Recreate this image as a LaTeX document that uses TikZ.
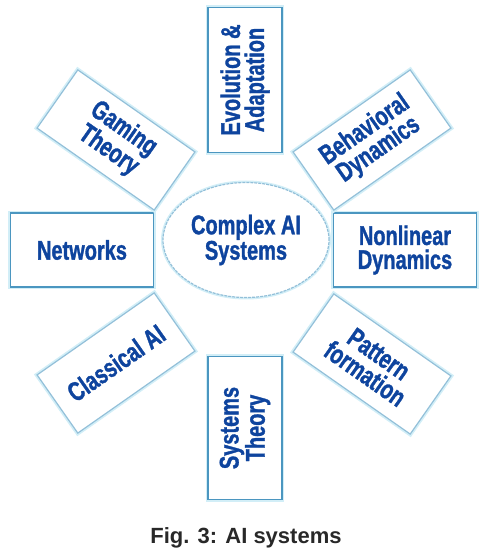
\documentclass[tikz,border=0pt]{standalone}
\usepackage{fontspec}
\setmainfont{Liberation Sans}
\newfontfamily\narrowfont{Liberation Sans}[FakeStretch=0.74, BoldFeatures={FakeBold=1.2}]
\usetikzlibrary{shapes.geometric}
\definecolor{ink}{RGB}{14,68,158}
\definecolor{frame}{RGB}{75,150,192}
\definecolor{glow}{RGB}{210,238,247}
\definecolor{capgray}{RGB}{40,40,40}

\begin{document}
\begin{tikzpicture}[
  x=1pt, y=1pt,
  topic/.style={draw=frame, line width=1.6pt, preaction={draw=glow, line width=4.5pt},
                fill=white, text=ink, align=center,
                font=\narrowfont\bfseries\fontsize{27}{24}\selectfont,
                minimum width=143pt, minimum height=74pt, inner sep=2pt},
  tilted/.style={topic, draw=frame!60, line width=1.2pt, minimum height=71pt},
  hub/.style={ellipse, draw=frame!60, line width=1.2pt, dash pattern=on 3pt off 1pt,
              preaction={draw=glow, line width=4pt, solid},
              fill=white, text=ink, align=center,
              font=\narrowfont\bfseries\fontsize{27}{24}\selectfont,
              minimum width=166pt, minimum height=115pt, inner sep=0pt}
]
  \useasboundingbox (0,0) rectangle (493,555);

  \node[hub] (core) at (246,315) {Complex AI\\Systems};

  \node[topic, rotate=90, minimum width=145pt] (evo) at (245,475) {Evolution \&\\Adaptation};
  \node[topic, rotate=90] (sys) at (245,127) {Systems\\Theory};
  \node[topic] (net) at (82,305) {Networks};
  \node[topic] (nonlin) at (405,305) {Nonlinear\\Dynamics};

  \node[tilted, rotate=-35] (game) at (116,415) {Gaming\\Theory};
  \node[tilted, rotate=35] (behav) at (372,415) {Behavioral\\Dynamics};
  \node[tilted, rotate=35] (classic) at (116,192) {Classical AI};
  \node[tilted, rotate=-35] (pattern) at (372,191) {Pattern\\formation};

  \node[text=capgray, font=\bfseries\fontsize{22}{24}\selectfont] (caption) at (246,17) {Fig. 3: AI systems};
\end{tikzpicture}
\end{document}
